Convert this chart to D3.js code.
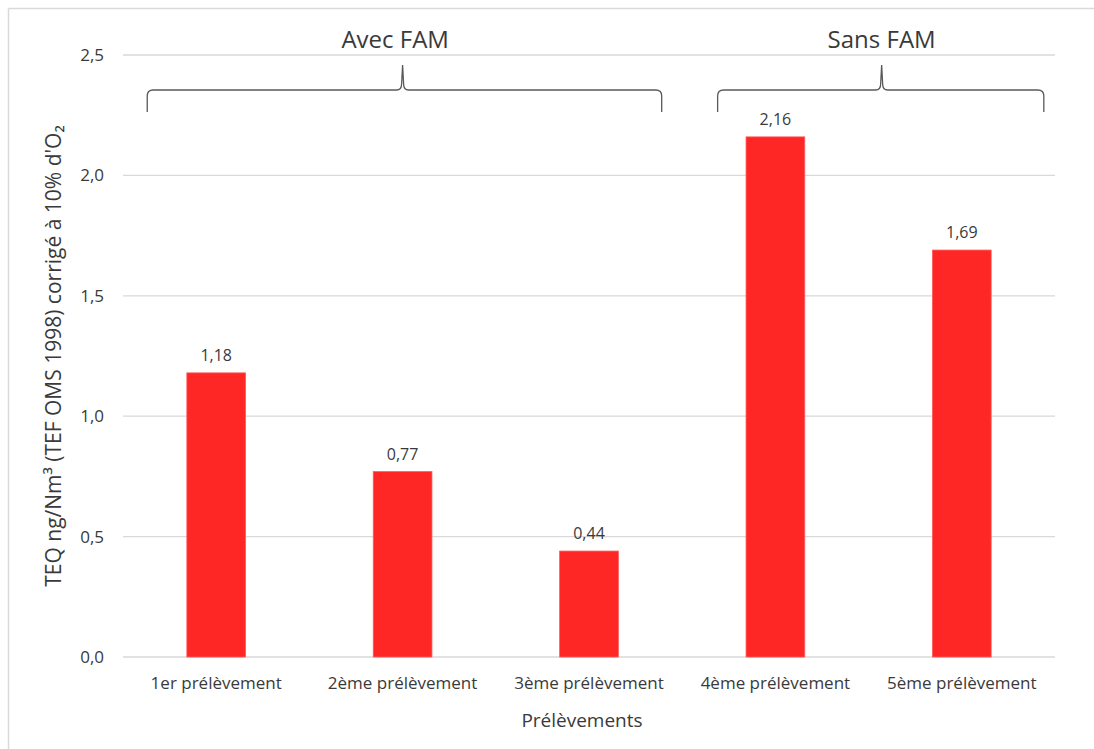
<!DOCTYPE html>
<html>
<head>
<meta charset="utf-8">
<script src="https://cdn.jsdelivr.net/npm/d3@7"></script>
<style>
  html, body { margin: 0; padding: 0; background: #fff; }
  svg { display: block; }
  text { font-family: "Open Sans", "Noto Sans", sans-serif; fill: #3a3a3a; }
</style>
</head>
<body>
<svg id="chart" width="1094" height="749"></svg>
<script>
// Sample labels and measured TEQ values
const categories = ["1er prélèvement", "2ème prélèvement", "3ème prélèvement", "4ème prélèvement", "5ème prélèvement"];
const values = [1.18, 0.77, 0.44, 2.16, 1.69];
const yTicks = [0, 0.5, 1.0, 1.5, 2.0, 2.5];

// Groups of samples marked with a curly brace (positions in category units)
const groupNames = ["Avec FAM", "Sans FAM"];
const groupStart = [0.13, 3.19];
const groupEnd = [2.89, 4.94];
const groupTip = [1.50, 4.07];
const groupLabelAt = [1.46, 4.07];

const yTitle = "TEQ ng/Nm³ (TEF OMS 1998) corrigé à 10% d'O₂";
const xTitle = "Prélèvements";

const svg = d3.select("#chart");
const fmt = v => d3.format(".1f")(v).replace(".", ",");
const fmt2 = v => d3.format(".2f")(v).replace(".", ",");

const plot = { left: 123, right: 1055, top: 55, bottom: 657 };

const x = d3.scaleBand().domain(d3.range(categories.length))
  .range([plot.left, plot.right]).paddingInner(0).paddingOuter(0);
const step = x.step();
const barW = step * 0.315;
const xu = d3.scaleLinear().domain([0, categories.length]).range([plot.left, plot.right]);

const y = d3.scaleLinear().domain([0, 2.5]).range([plot.bottom, plot.top]);

// Outer frame (top and left edges)
svg.append("line").attr("x1", 8.5).attr("x2", 1094).attr("y1", 8.5).attr("y2", 8.5)
  .attr("stroke", "#d9d9d9").attr("stroke-width", 1.5);
svg.append("line").attr("x1", 8.5).attr("x2", 8.5).attr("y1", 8.5).attr("y2", 749)
  .attr("stroke", "#d9d9d9").attr("stroke-width", 1.5);

// Gridlines
svg.append("g").selectAll("line").data(yTicks).join("line")
  .attr("x1", plot.left).attr("x2", plot.right)
  .attr("y1", d => y(d)).attr("y2", d => y(d))
  .attr("stroke", "#d9d9d9").attr("stroke-width", 1.3);

// Y axis labels
const yAxis = d3.axisLeft(y).tickValues(yTicks).tickFormat(fmt).tickSize(0).tickPadding(19);
const gy = svg.append("g").attr("transform", `translate(${plot.left},0)`).call(yAxis);
gy.select(".domain").remove();
gy.selectAll("text").style("font-size", "17px").attr("fill", "#3a3a3a")
  .style("font-family", "'Open Sans', sans-serif");

// X axis labels
const xAxis = d3.axisBottom(x).tickFormat(i => categories[i]).tickSize(0).tickPadding(20);
const gx = svg.append("g").attr("transform", `translate(0,${plot.bottom})`).call(xAxis);
gx.select(".domain").remove();
gx.selectAll("text").style("font-size", "17px").attr("fill", "#3a3a3a")
  .style("font-family", "'Open Sans', sans-serif");

// Bars
svg.append("g").selectAll("rect").data(values).join("rect")
  .attr("x", (d, i) => x(i) + step / 2 - barW / 2)
  .attr("width", barW)
  .attr("y", d => y(d))
  .attr("height", d => y(0) - y(d))
  .attr("fill", "#ff2626")
  .attr("stroke", "#ff5a5a").attr("stroke-width", 0.8);

// Value labels
svg.append("g").selectAll("text").data(values).join("text")
  .attr("x", (d, i) => x(i) + step / 2)
  .attr("y", d => y(d) - 12)
  .attr("text-anchor", "middle")
  .style("font-size", "16px")
  .text(fmt2);

// Curly braces above the groups
const braceTop = 65, braceMid = 90, braceBottom = 112, r = 6;
groupNames.forEach((name, i) => {
  const x0 = xu(groupStart[i]), x1 = xu(groupEnd[i]), xt = xu(groupTip[i]);
  const p = d3.path();
  p.moveTo(x0, braceBottom);
  p.lineTo(x0, braceMid + r);
  p.quadraticCurveTo(x0, braceMid, x0 + r, braceMid);
  p.lineTo(xt - r, braceMid);
  p.quadraticCurveTo(xt - 1, braceMid, xt - 1, braceMid - r);
  p.lineTo(xt, braceTop);
  p.lineTo(xt + 1, braceMid - r);
  p.quadraticCurveTo(xt + 1, braceMid, xt + r, braceMid);
  p.lineTo(x1 - r, braceMid);
  p.quadraticCurveTo(x1, braceMid, x1, braceMid + r);
  p.lineTo(x1, braceBottom);
  svg.append("path").attr("d", p.toString())
    .attr("fill", "none").attr("stroke", "#595959").attr("stroke-width", 1.3);
  svg.append("text")
    .attr("x", xu(groupLabelAt[i])).attr("y", 48)
    .attr("text-anchor", "middle")
    .style("font-size", "24px").attr("fill", "#262626")
    .text(name);
});

// Axis titles
svg.append("text")
  .attr("transform", `translate(61,${(plot.top + plot.bottom) / 2}) rotate(-90)`)
  .attr("text-anchor", "middle")
  .style("font-size", "21px")
  .text(yTitle);

svg.append("text")
  .attr("x", 582).attr("y", 727)
  .attr("text-anchor", "middle")
  .style("font-size", "19px")
  .text(xTitle);
</script>
</body>
</html>
